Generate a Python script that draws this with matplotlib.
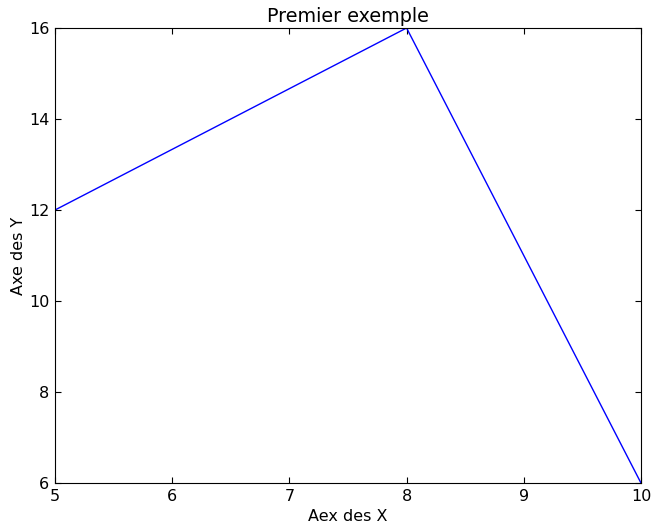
import matplotlib
matplotlib.use('Agg')
import matplotlib.pyplot as plt

x = [5, 8, 10]
y = [12, 16, 6]

plt.rcParams['font.size'] = 11.5
fig = plt.figure(figsize=(6.51, 5.24), dpi=100)
ax = fig.add_axes([0.0845, 0.0782, 0.9001, 0.8684])
ax.plot(x, y, color='b', linewidth=1)
ax.set_xlim(5, 10)
ax.set_ylim(6, 16)
ax.set_title('Premier exemple', fontsize=13.8, pad=4)
ax.set_xlabel('Aex des X', labelpad=4)
ax.set_ylabel('Axe des Y', labelpad=2)
ax.tick_params(direction='in', top=True, right=True, length=4, pad=4)
fig.savefig('out.png', dpi=100)
